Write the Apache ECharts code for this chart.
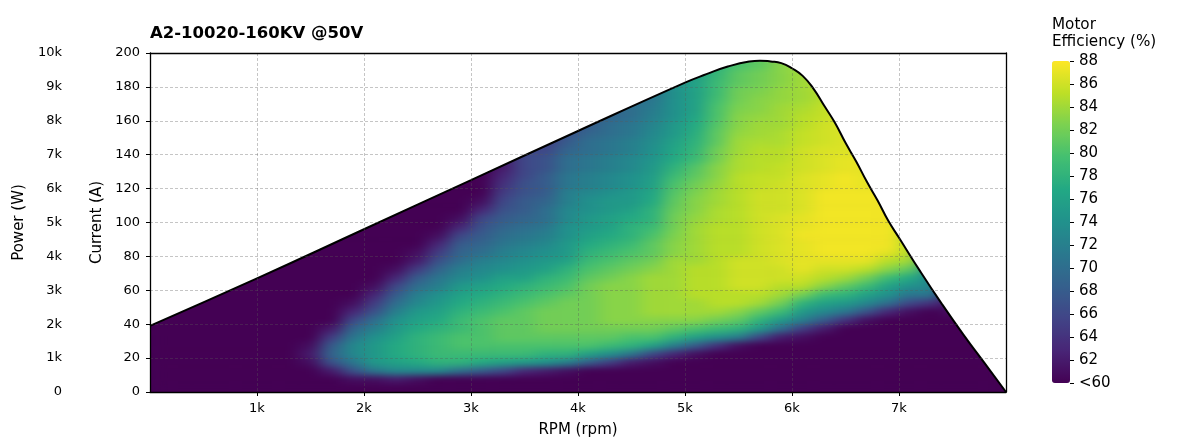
<!DOCTYPE html>
<html><head><meta charset="utf-8">
<style>html,body{margin:0;padding:0;background:#fff}#c{width:1200px;height:440px}
canvas[data-zr-dom-id="zr_0"]{filter:url(#soft);clip-path:inset(53px 194px 48px 150px)}</style>
<script src="https://cdn.jsdelivr.net/npm/echarts@6/dist/echarts.min.js"></script>
</head><body>
<svg width="0" height="0" style="position:absolute"><filter id="soft" x="-5%" y="-5%" width="110%" height="110%" color-interpolation-filters="sRGB"><feGaussianBlur stdDeviation="8 3"/></filter></svg>
<div id="c"></div>
<script>
const rpmBins=[100,300,500,700,900,1100,1300,1500,1700,1900,2100,2300,2500,2700,2900,3100,3300,3500,3700,3900,4100,4300,4500,4700,4900,5100,5300,5500,5700,5900,6100,6300,6500,6700,6900,7100,7300,7500,7700,7900];
const currentBins=[2.5,7.5,12.5,17.5,22.5,27.5,32.5,37.5,42.5,47.5,52.5,57.5,62.5,67.5,72.5,77.5,82.5,87.5,92.5,97.5,102.5,107.5,112.5,117.5,122.5,127.5,132.5,137.5,142.5,147.5,152.5,157.5,162.5,167.5,172.5,177.5,182.5,187.5,192.5,197.5];
// efficiency (%) read per rpm column, from 2.5 A upward until the envelope
const efficiency=[
[60,60,60,60,60,60,60,60,60],
[60,60,60,60,60,60,60,60,60,60],
[60,60,60,60,60,60,60,60,60,60,60],
[60,60,60,60,60,60,60,60,60,60,60,60],
[60,60,60,60,60,60,60,60,60,60,60,60,60],
[60,60,60,60,60,60,60,60,60,60,60,60,60,60],
[60,60,60,60,60,60,60,60,60,60,60,60,60,60,60,60],
[60,60,60,61,62,61,60,60,60,60,60,60,60,60,60,60,60],
[60,60,62,67,69,68,65,62,60,60,60,60,60,60,60,60,60,60],
[60,61,67,71,73,73,71,69,66,63,61,60,60,60,60,60,60,60,60],
[60,61,71,75,75,75,74,72,70,67,65,63,61,60,60,60,60,60,60,60],
[60,62,73,76,77,77,76,75,74,72,70,68,66,63,61,60,60,60,60,60,60],
[60,61,73,77,78,78,78,77,76,75,73,72,70,68,65,62,61,60,60,60,60,60],
[60,60,73,78,79,79,79,78,77,76,75,74,72,71,69,67,65,63,61,60,60,60,60],
[60,60,70,78,79,80,80,79,79,78,77,76,75,73,72,70,69,68,66,63,61,60,60,60,60],
[60,60,68,77,79,80,80,80,80,79,78,77,76,74,73,72,70,69,68,67,66,63,61,60,60,60],
[60,60,66,76,79,80,81,81,81,80,79,78,77,76,74,73,72,71,70,69,68,67,66,65,64,63,62],
[60,60,63,75,79,80,81,81,81,81,80,79,78,76,75,74,73,72,71,70,69,68,68,67,67,66,66,66],
[60,60,62,74,78,80,81,82,82,82,81,80,79,78,76,75,74,73,72,71,70,70,69,68,68,68,67,67,66,65],
[60,60,61,72,78,80,81,82,82,82,82,81,80,79,78,76,75,75,74,74,73,73,72,72,71,71,70,70,69,68,67],
[60,60,60,68,76,80,81,82,82,82,82,82,82,81,80,79,78,77,76,75,75,74,74,73,72,72,71,71,70,70,69,68],
[60,60,60,65,74,79,81,82,83,83,83,83,83,82,81,80,79,78,77,76,76,75,75,74,73,73,72,72,71,71,70,70,69],
[60,60,60,62,71,78,80,82,83,83,83,83,83,83,82,81,80,79,78,78,77,76,75,75,74,74,73,73,72,72,71,71,70,70],
[60,60,60,61,66,76,80,82,83,84,84,84,84,84,83,82,81,81,80,79,78,78,77,76.5,76,75.5,75,74.5,74,73.5,73,72.5,72,71.5,71],
[60,60,60,60,63,72,78,81,83,84,84,84,84,84,84,84,83,83,82.5,82,82,81.5,81,80.5,80,79,78,77,76.5,76,75,75,74,74,74,74],
[60,60,60,60,61,68,76,80,83,84,84,85,85,85,85,84,84,84,84,84,83.5,83,83,82.5,82,81,80.5,79,78.5,78,77.5,77,76.5,76,76,76,76,76],
[60,60,60,60,60,64,74,79,82,84,85,85,85,85,85,85,85,85,85,85,84.5,84.5,84,84,83.5,83,83,82,82,81,81,80.5,80,80,79.5,79,79,78.5,78],
[60,60,60,60,60,61,72,78,81,83,85,85,86,86,86,86,85,85,85,85,85,85,85,85,85,85,84.5,84.5,84,84,83.5,83,83,82.5,82,82,81,81,80,80],
[60,60,60,60,60,60,66,75,78,81,84,85,86,86,86,86,86,86,86,86,86,86,86,86,85.5,85.5,85,85,85,84.5,84,84,83.5,83,83,82.5,82,82,81,81],
[60,60,60,60,60,60,62,70,75,79,82,84,85,86,86,86.5,86.5,86.5,86.5,86.5,86.5,86,86,86,86,85.5,85.5,85,85,84.5,84.5,84,84,84,83.5,83.5,83,83,83],
[60,60,60,60,60,60,61,65,72,75,78,82,85,86,87,87,87,87,87.5,87,87,86.5,86.5,86.5,86.5,86.5,86,86,86,85.5,85.5,85,85,84.5,84,84,84,84],
[60,60,60,60,60,60,60,62,68,73,76,79,83,85,86,87,87.5,87.5,87.5,87.5,87.5,87.5,87.5,87.5,87,87,86.5,86.5,86.5,86,86,86,85.5,85.5,85],
[60,60,60,60,60,60,60,60,64,71,75,78,81,84,86,87,87.5,87.5,87.5,87.5,87.5,87.5,87.5,87.5,87.5,87.5,87,87,86.5,86.5,86.5],
[60,60,60,60,60,60,60,60,61,67,73,76,79,82,85,87,87.5,87.5,87.5,87.5,87.5,87.5,87.5,87.5,87,87],
[60,60,60,60,60,60,60,60,60,63,70,74,76,79,83,85,87,87.5,87.5,87.5,87.5],
[60,60,60,60,60,60,60,60,60,61,66,71,74,77,81,84,85],
[60,60,60,60,60,60,60,60,60,60,64,71,73],
[60,60,60,60,60,60,60,60,60,61],
[60,60,60,60,60,60,60],
[60,60,60]
];
const envelopeRpm=[0,1000,2000,3000,4000,5000,5200,5400,5600,5700,5800,5900,6000,6100,6200,6300,6400,6500,6600,6700,6800,6900,7000,7200,7400,7600,7800,8000];
const envelopeAmps=[39,67,96,125,154,182.5,187.5,192,195,195.5,195,194,191,186.5,179,169,159,147,136,124,113,101,91,71,52,34,17,0];
const rpmTicks=[1000,2000,3000,4000,5000,6000,7000];
const viridis=['#440154','#482576','#414487','#35608d','#2a788e','#21918c','#22a884','#43bf71','#7ad151','#bddf26','#fde725'];

const font='DejaVu Sans';
const k=v=>v===0?'0':(v/1000)+'k';
const gridLine={show:true,lineStyle:{color:'rgba(90,90,90,0.5)',width:0.7,type:[3,2]}};
const cells=[];
// each column continues past the envelope with its last reading; the white fill above the curve hides that part
efficiency.forEach((col,i)=>{
  const top=col[col.length-1];
  for(let j=0;j<currentBins.length&&j<col.length+5;j++) cells.push([i,j,j<col.length?col[j]:top]);
});
const chart=echarts.init(document.getElementById('c'),null,{renderer:'canvas'});
chart.setOption({
  animation:false,
  backgroundColor:'#fff',
  title:[
    {text:'A2-10020-160KV @50V',left:150,top:25,padding:0,zlevel:1,textStyle:{fontFamily:font,fontSize:16.5,fontWeight:'bold',color:'#000'}},
    {text:'Motor\nEfficiency (%)',left:1052,top:17,padding:0,zlevel:1,textStyle:{fontFamily:font,fontSize:15.2,fontWeight:'normal',color:'#000',lineHeight:17}}
  ],
  grid:[
    {left:150,top:53,width:856,height:339,show:true,backgroundColor:'#440154',borderWidth:0,zlevel:-1,outerBoundsMode:'none'},
    {left:1052,top:61,width:18,height:322,outerBoundsMode:'none'}
  ],
  xAxis:[
    {gridIndex:0,type:'value',min:0,max:8000,interval:1000,z:10,zlevel:1,
     name:'RPM (rpm)',nameLocation:'middle',nameGap:31,nameTextStyle:{fontFamily:font,fontSize:15,color:'#000'},
     axisLine:{onZero:false,lineStyle:{color:'#000',width:1.3}},axisTick:{length:4,lineStyle:{color:'#000'},customValues:rpmTicks},
     axisLabel:{fontFamily:font,fontSize:13,color:'#000',margin:10,customValues:rpmTicks,formatter:k},
     splitLine:gridLine},
    {gridIndex:0,type:'category',data:rpmBins,show:false},
    {gridIndex:0,type:'value',min:0,max:8000,position:'top',z:10,zlevel:1,axisLine:{show:true,onZero:false,lineStyle:{color:'#000',width:1.3}},axisTick:{show:false},axisLabel:{show:false},splitLine:{show:false}},
    {gridIndex:1,type:'value',min:0,max:1,show:false}
  ],
  yAxis:[
    {gridIndex:0,type:'value',min:0,max:200,interval:20,z:10,zlevel:1,
     name:'Current (A)',nameLocation:'middle',nameGap:42,nameRotate:90,nameTextStyle:{fontFamily:font,fontSize:15,color:'#000'},
     axisLine:{show:true,onZero:false,lineStyle:{color:'#000',width:1.3}},axisTick:{show:true,length:4,lineStyle:{color:'#000'}},
     axisLabel:{fontFamily:font,fontSize:13,color:'#000',margin:10,padding:[3,0,0,0]},splitLine:gridLine},
    {gridIndex:0,type:'value',min:0,max:10000,interval:1000,position:'left',offset:80,zlevel:1,
     name:'Power (W)',nameLocation:'middle',nameGap:38,nameRotate:90,nameTextStyle:{fontFamily:font,fontSize:15,color:'#000'},
     axisLine:{show:false,onZero:false},axisTick:{show:false},splitLine:{show:false},
     axisLabel:{fontFamily:font,fontSize:13,color:'#000',margin:8,padding:[3,0,0,0],formatter:k}},
    {gridIndex:0,type:'category',data:currentBins,show:false},
    {gridIndex:0,type:'value',min:0,max:200,position:'right',z:10,zlevel:1,axisLine:{show:true,onZero:false,lineStyle:{color:'#000',width:1.3}},axisTick:{show:false},axisLabel:{show:false},splitLine:{show:false}},
    {gridIndex:1,type:'value',min:60,max:88,interval:2,position:'right',z:10,zlevel:1,
     axisLine:{show:false,onZero:false},axisTick:{show:true,length:4,lineStyle:{color:'#000'}},splitLine:{show:false},
     axisLabel:{fontFamily:font,fontSize:15,color:'#000',margin:9,padding:[3,0,0,0],formatter:v=>v===60?'<60':String(v)}}
  ],
  visualMap:{type:'continuous',seriesIndex:0,min:60,max:88,show:true,calculable:false,hoverLink:false,realtime:false,zlevel:1,
    left:1052,top:61,itemWidth:18,itemHeight:322,padding:0,text:['',''],textGap:0,inRange:{color:viridis}},
  series:[
    {type:'heatmap',xAxisIndex:1,yAxisIndex:2,data:cells,silent:true,zlevel:0,z:2,progressive:0,emphasis:{disabled:true}},
    {type:'line',xAxisIndex:0,yAxisIndex:0,data:envelopeRpm.map((r,i)=>[r,envelopeAmps[i]]),smooth:0.5,showSymbol:false,silent:true,zlevel:1,z:3,
     lineStyle:{color:'#000',width:2},areaStyle:{origin:'end',color:'#fff',opacity:1}}
  ]
});
</script></body></html>
